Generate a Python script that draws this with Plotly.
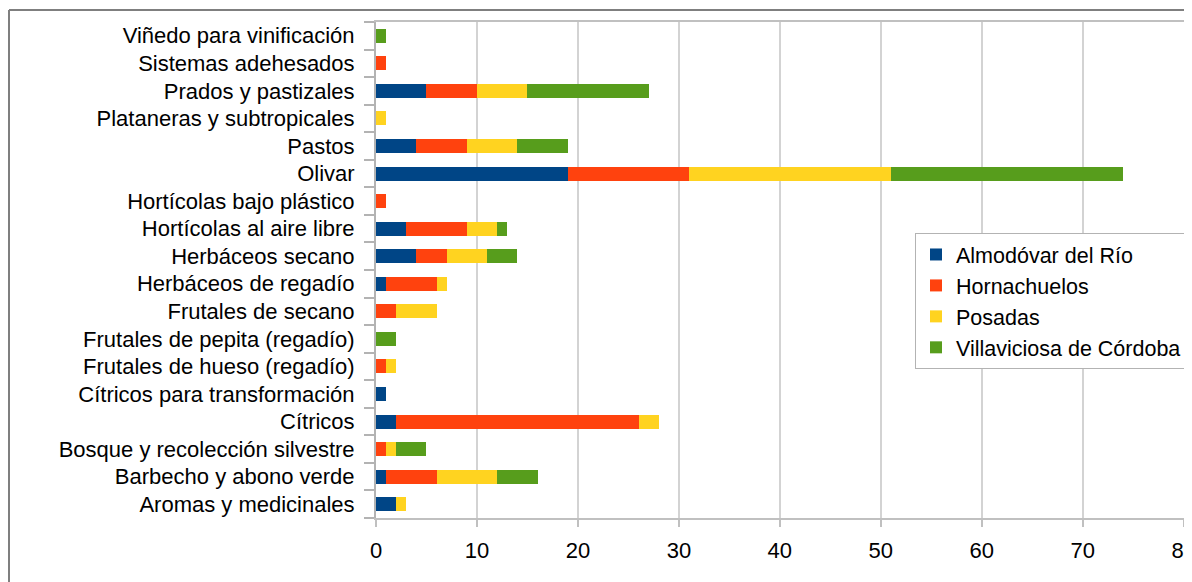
import plotly.graph_objects as go

# Categories listed bottom-to-top
categories = [
    "Aromas y medicinales",
    "Barbecho y abono verde",
    "Bosque y recolección silvestre",
    "Cítricos",
    "Cítricos para transformación",
    "Frutales de hueso (regadío)",
    "Frutales de pepita (regadío)",
    "Frutales de secano",
    "Herbáceos de regadío",
    "Herbáceos secano",
    "Hortícolas al aire libre",
    "Hortícolas bajo plástico",
    "Olivar",
    "Pastos",
    "Plataneras y subtropicales",
    "Prados y pastizales",
    "Sistemas adehesados",
    "Viñedo para vinificación",
]

almodovar = [2, 1, 0, 2, 1, 0, 0, 0, 1, 4, 3, 0, 19, 4, 0, 5, 0, 0]
hornachuelos = [0, 5, 1, 24, 0, 1, 0, 2, 5, 3, 6, 1, 12, 5, 0, 5, 1, 0]
posadas = [1, 6, 1, 2, 0, 1, 0, 4, 1, 4, 3, 0, 20, 5, 1, 5, 0, 0]
villaviciosa = [0, 4, 3, 0, 0, 0, 2, 0, 0, 3, 1, 0, 23, 5, 0, 12, 0, 1]

series_names = ["Almodóvar del Río", "Hornachuelos", "Posadas", "Villaviciosa de Córdoba"]
series_values = [almodovar, hornachuelos, posadas, villaviciosa]
series_colors = ["#004586", "#ff420e", "#ffd320", "#579d1c"]

x_ticks = [0, 10, 20, 30, 40, 50, 60, 70, 80]

fig = go.Figure()
for name, vals, col in zip(series_names, series_values, series_colors):
    fig.add_trace(go.Bar(
        y=categories, x=vals, name=name, orientation="h",
        marker=dict(color=col, line=dict(width=0)),
    ))

font_family = "Liberation Sans, Arial, sans-serif"
fs = 22

# page body adds an 8px offset; compensate
W, H = 1184, 574
ML, MT, MR = 368, 14, 8
PW = W - ML - MR
PH = 496
MB = H - MT - PH

def px_x(page_x):
    return (page_x - 8 - ML) / PW

def px_y(page_y):
    return 1 - (page_y - 8 - MT) / PH

fig.update_layout(
    barmode="stack",
    bargap=0.49,
    width=W, height=H,
    margin=dict(l=ML, r=MR, t=MT, b=MB, autoexpand=False),
    paper_bgcolor="white",
    plot_bgcolor="white",
    font=dict(family=font_family, size=fs, color="#000000"),
    showlegend=True,
    legend=dict(
        x=px_x(915), y=px_y(233), xanchor="left", yanchor="top",
        bgcolor="white", bordercolor="#b3b3b3", borderwidth=1,
        font=dict(family=font_family, size=21.5, color="#000000"),
        itemwidth=30, traceorder="normal",
    ),
    xaxis=dict(
        range=[0, 80.03], tickvals=x_ticks, ticktext=[str(t) for t in x_ticks],
        showgrid=True, gridcolor="#d3d3d3", gridwidth=2,
        showline=True, linecolor="#c0c0c0", linewidth=2, mirror=True,
        ticks="outside", ticklen=7, tickcolor="#c0c0c0", tickwidth=2,
        zeroline=False, automargin=False, ticklabeloverflow="allow",
        ticklabelstandoff=5,
        tickfont=dict(family=font_family, size=fs, color="#000000"),
    ),
    yaxis=dict(
        categoryorder="array", categoryarray=categories,
        showgrid=False, automargin=False,
        showline=True, linecolor="#b3b3b3", linewidth=2,
        ticks="outside", ticklen=10, tickcolor="#b3b3b3", tickwidth=2,
        tickson="boundaries", ticklabelstandoff=15,
        tickfont=dict(family=font_family, size=fs, color="#000000"),
    ),
    shapes=[
        dict(type="line", xref="paper", yref="paper",
             x0=px_x(9), x1=1.2, y0=px_y(10), y1=px_y(10),
             line=dict(color="#7f7f7f", width=2)),
        dict(type="line", xref="paper", yref="paper",
             x0=px_x(9), x1=px_x(9), y0=px_y(10), y1=-0.3,
             line=dict(color="#7f7f7f", width=2)),
    ],
)

fig.write_html("out.html")
